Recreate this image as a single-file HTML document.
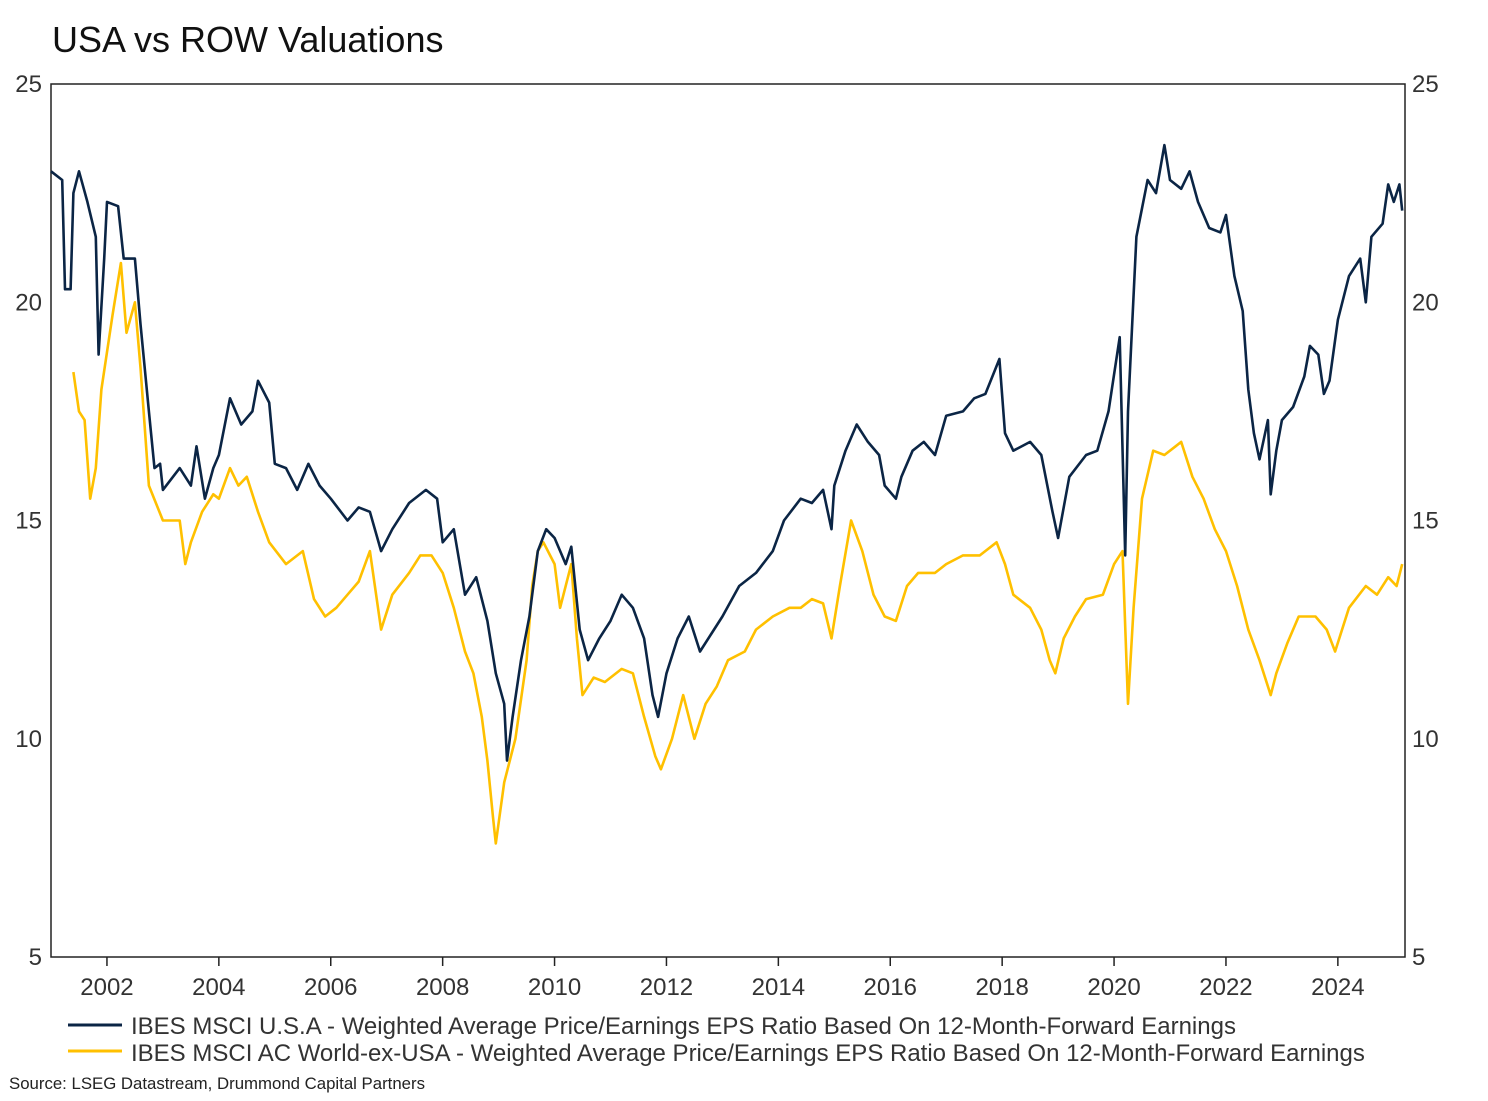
<!DOCTYPE html>
<html><head><meta charset="utf-8"><style>
body{margin:0;background:#fff;font-family:"Liberation Sans",Arial,sans-serif;}
svg{display:block}
</style></head><body>
<svg id="chart" width="1488" height="1101">
<text x="52" y="52" font-size="36" fill="#111">USA vs ROW Valuations</text>
<rect x="51" y="84" width="1354" height="873" fill="none" stroke="#222" stroke-width="1.5"/>
<g id="axes"></g>
<g id="series"></g>
<g>
<line x1="68" y1="1025" x2="122" y2="1025" stroke="#0b2545" stroke-width="3"/>
<text x="131" y="1034" font-size="24" fill="#333">IBES MSCI U.S.A - Weighted Average Price/Earnings EPS Ratio Based On 12-Month-Forward Earnings</text>
<line x1="68" y1="1051" x2="122" y2="1051" stroke="#ffc000" stroke-width="3"/>
<text x="131" y="1061" font-size="24" fill="#333">IBES MSCI AC World-ex-USA - Weighted Average Price/Earnings EPS Ratio Based On 12-Month-Forward Earnings</text>
</g>
<text x="9" y="1089" font-size="16.8" fill="#222">Source: LSEG Datastream, Drummond Capital Partners</text>
</svg>
<script>
const yTicks=[5,10,15,20,25];
const xTicks=[2002,2004,2006,2008,2010,2012,2014,2016,2018,2020,2022,2024];
const usaDates=[2001.0,2001.2,2001.25,2001.35,2001.4,2001.5,2001.65,2001.8,2001.85,2001.95,2002.0,2002.2,2002.3,2002.5,2002.6,2002.75,2002.85,2002.95,2003.0,2003.3,2003.5,2003.6,2003.75,2003.9,2004.0,2004.2,2004.4,2004.6,2004.7,2004.9,2005.0,2005.2,2005.4,2005.6,2005.8,2006.0,2006.3,2006.5,2006.7,2006.9,2007.1,2007.4,2007.7,2007.9,2008.0,2008.2,2008.4,2008.6,2008.8,2008.95,2009.1,2009.15,2009.25,2009.4,2009.55,2009.7,2009.85,2010.0,2010.2,2010.3,2010.45,2010.6,2010.8,2011.0,2011.2,2011.4,2011.6,2011.75,2011.85,2012.0,2012.2,2012.4,2012.6,2012.8,2013.0,2013.3,2013.6,2013.9,2014.1,2014.4,2014.6,2014.8,2014.95,2015.0,2015.2,2015.4,2015.6,2015.8,2015.9,2016.1,2016.2,2016.4,2016.6,2016.8,2017.0,2017.3,2017.5,2017.7,2017.95,2018.05,2018.2,2018.5,2018.7,2018.9,2019.0,2019.2,2019.5,2019.7,2019.9,2020.1,2020.2,2020.25,2020.4,2020.6,2020.75,2020.9,2021.0,2021.2,2021.35,2021.5,2021.7,2021.9,2022.0,2022.15,2022.3,2022.4,2022.5,2022.6,2022.75,2022.8,2022.9,2023.0,2023.2,2023.4,2023.5,2023.65,2023.75,2023.85,2024.0,2024.2,2024.4,2024.5,2024.6,2024.8,2024.9,2025.0,2025.1,2025.15];
const usaValues=[23.0,22.8,20.3,20.3,22.5,23.0,22.3,21.5,18.8,21.0,22.3,22.2,21.0,21.0,19.5,17.5,16.2,16.3,15.7,16.2,15.8,16.7,15.5,16.2,16.5,17.8,17.2,17.5,18.2,17.7,16.3,16.2,15.7,16.3,15.8,15.5,15.0,15.3,15.2,14.3,14.8,15.4,15.7,15.5,14.5,14.8,13.3,13.7,12.7,11.5,10.8,9.5,10.5,11.8,12.8,14.3,14.8,14.6,14.0,14.4,12.5,11.8,12.3,12.7,13.3,13.0,12.3,11.0,10.5,11.5,12.3,12.8,12.0,12.4,12.8,13.5,13.8,14.3,15.0,15.5,15.4,15.7,14.8,15.8,16.6,17.2,16.8,16.5,15.8,15.5,16.0,16.6,16.8,16.5,17.4,17.5,17.8,17.9,18.7,17.0,16.6,16.8,16.5,15.2,14.6,16.0,16.5,16.6,17.5,19.2,14.2,17.5,21.5,22.8,22.5,23.6,22.8,22.6,23.0,22.3,21.7,21.6,22.0,20.6,19.8,18.0,17.0,16.4,17.3,15.6,16.6,17.3,17.6,18.3,19.0,18.8,17.9,18.2,19.6,20.6,21.0,20.0,21.5,21.8,22.7,22.3,22.7,22.1];
const rowDates=[2001.4,2001.5,2001.6,2001.7,2001.8,2001.9,2002.1,2002.25,2002.35,2002.5,2002.6,2002.75,2003.0,2003.3,2003.4,2003.5,2003.7,2003.9,2004.0,2004.2,2004.35,2004.5,2004.7,2004.9,2005.2,2005.5,2005.7,2005.9,2006.1,2006.3,2006.5,2006.7,2006.9,2007.1,2007.4,2007.6,2007.8,2008.0,2008.2,2008.4,2008.55,2008.7,2008.8,2008.9,2008.95,2009.1,2009.3,2009.5,2009.6,2009.7,2009.8,2010.0,2010.1,2010.3,2010.4,2010.5,2010.7,2010.9,2011.2,2011.4,2011.6,2011.8,2011.9,2012.1,2012.3,2012.5,2012.7,2012.9,2013.1,2013.4,2013.6,2013.9,2014.2,2014.4,2014.6,2014.8,2014.95,2015.1,2015.3,2015.5,2015.7,2015.9,2016.1,2016.3,2016.5,2016.8,2017.0,2017.3,2017.6,2017.9,2018.05,2018.2,2018.5,2018.7,2018.85,2018.95,2019.1,2019.3,2019.5,2019.8,2020.0,2020.15,2020.25,2020.35,2020.5,2020.7,2020.9,2021.1,2021.2,2021.4,2021.6,2021.8,2022.0,2022.2,2022.4,2022.6,2022.8,2022.9,2023.1,2023.3,2023.6,2023.8,2023.95,2024.2,2024.5,2024.7,2024.9,2025.05,2025.15];
const rowValues=[18.4,17.5,17.3,15.5,16.2,18.0,19.7,20.9,19.3,20.0,18.5,15.8,15.0,15.0,14.0,14.5,15.2,15.6,15.5,16.2,15.8,16.0,15.2,14.5,14.0,14.3,13.2,12.8,13.0,13.3,13.6,14.3,12.5,13.3,13.8,14.2,14.2,13.8,13.0,12.0,11.5,10.5,9.5,8.2,7.6,9.0,10.0,11.8,13.5,14.3,14.5,14.0,13.0,14.0,12.3,11.0,11.4,11.3,11.6,11.5,10.5,9.6,9.3,10.0,11.0,10.0,10.8,11.2,11.8,12.0,12.5,12.8,13.0,13.0,13.2,13.1,12.3,13.5,15.0,14.3,13.3,12.8,12.7,13.5,13.8,13.8,14.0,14.2,14.2,14.5,14.0,13.3,13.0,12.5,11.8,11.5,12.3,12.8,13.2,13.3,14.0,14.3,10.8,13.0,15.5,16.6,16.5,16.7,16.8,16.0,15.5,14.8,14.3,13.5,12.5,11.8,11.0,11.5,12.2,12.8,12.8,12.5,12.0,13.0,13.5,13.3,13.7,13.5,14.0];

const X0=51,X1=1405,Y0=957,Y1=84,T0=2001.0,T1=2025.2;
function xs(t){return X0+(t-T0)/(T1-T0)*(X1-X0);}
function ys(v){return Y0-(v-5)/(25-5)*(Y0-Y1);}
const NS='http://www.w3.org/2000/svg';
const axes=document.getElementById('axes'),series=document.getElementById('series');
function mk(tag,attrs,parent){const e=document.createElementNS(NS,tag);for(const k in attrs)e.setAttribute(k,attrs[k]);parent.appendChild(e);return e;}
yTicks.forEach(v=>{
  const l=mk('text',{x:42,y:ys(v)+8,'font-size':24,fill:'#333','text-anchor':'end'},axes);
  l.textContent=v;
  
  
  const r=mk('text',{x:1412,y:ys(v)+8,'font-size':24,fill:'#333'},axes);
  r.textContent=v;
  
  
});
xTicks.forEach(t=>{
  const tk=mk('line',{x1:xs(t),x2:xs(t),y1:957,y2:966,stroke:'#222','stroke-width':1.5},axes);
  
  
  const l=mk('text',{x:xs(t),y:995,'font-size':24,fill:'#333','text-anchor':'middle'},axes);
  l.textContent=t;
  
  
});
function line(d,v,color,name){
  const pts=d.map((t,i)=>xs(t).toFixed(1)+','+ys(v[i]).toFixed(1)).join(' ');
  const p=mk('polyline',{points:pts,fill:'none',stroke:color,'stroke-width':2.6,'stroke-linejoin':'round'},series);
  
  
}
line(rowDates,rowValues,'#ffc000','row-pe-line');
line(usaDates,usaValues,'#0b2545','usa-pe-line');
</script>
</body></html>
